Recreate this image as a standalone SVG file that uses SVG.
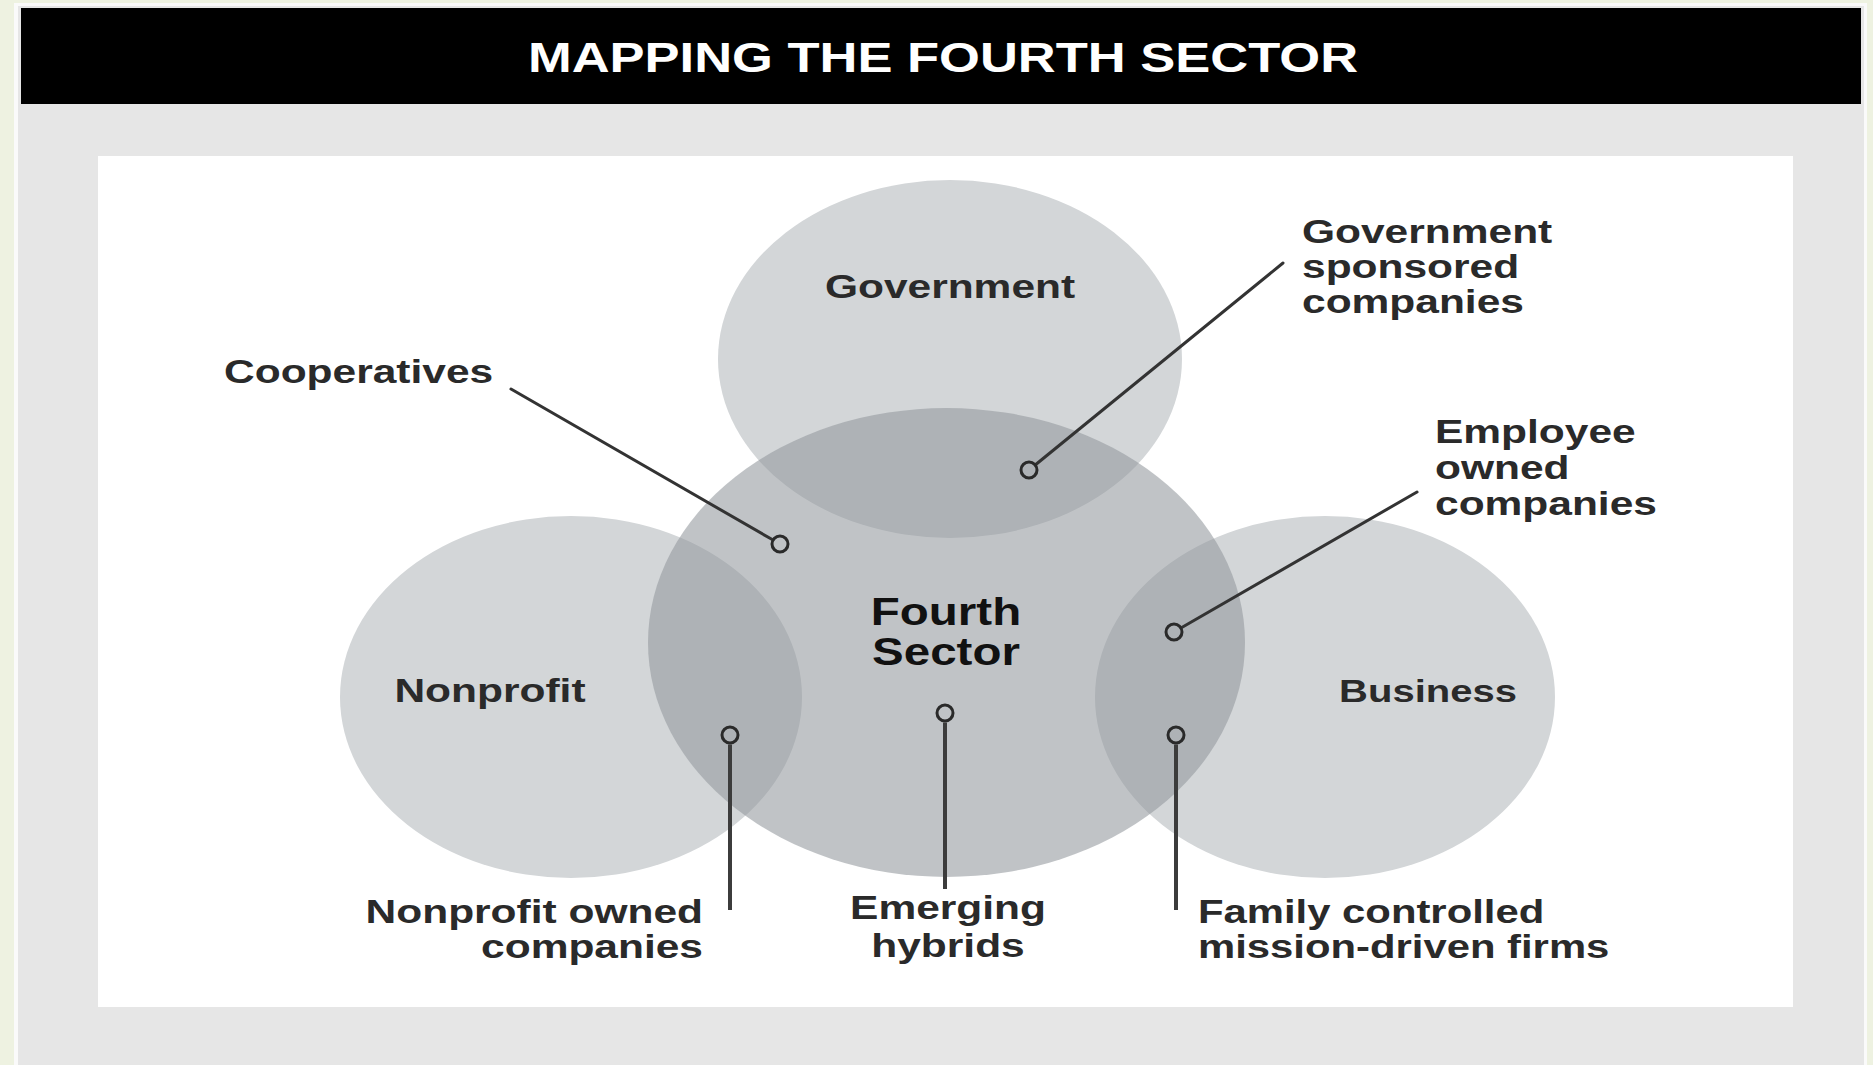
<svg xmlns="http://www.w3.org/2000/svg" width="1873" height="1065" viewBox="0 0 1873 1065">
  <style>
    .lbl { font-family: "Liberation Sans", Arial, sans-serif; font-weight: bold; font-size: 34px; fill: #2a2a2a; }
    .big { font-size: 38px; fill: #111; }
    .title { font-family: "Liberation Sans", Arial, sans-serif; font-weight: bold; font-size: 42px; fill: #ffffff; }
    .sector { fill: #d3d6d8; }
    .core { fill: #92989d; fill-opacity: 0.58; }
    .conn { stroke: #333; stroke-width: 3; fill: none; stroke-linecap: round; }
    .vconn { stroke: #3c3c3c; stroke-width: 4; fill: none; }
    .dot { fill: none; stroke: #2a2a2a; stroke-width: 3; }
  </style>

  <!-- background frame -->
  <rect x="0" y="0" width="1873" height="1065" fill="#eef2e1"/>
  <rect x="14" y="3" width="1853" height="1062" fill="#fafafa"/>
  <rect x="18" y="6" width="1846" height="1059" fill="#e6e6e6"/>
  <rect x="21" y="8" width="1840" height="96" fill="#000000"/>
  <text class="title" transform="translate(943,72) scale(1.25,1)" text-anchor="middle">MAPPING THE FOURTH SECTOR</text>
  <rect x="98" y="156" width="1695" height="851" fill="#ffffff"/>

  <!-- sector circles -->
  <g id="government">
    <ellipse class="sector" cx="950" cy="359" rx="232" ry="179"/>
    <text class="lbl" transform="translate(950,298) scale(1.25,1)" text-anchor="middle">Government</text>
  </g>
  <g id="nonprofit">
    <ellipse class="sector" cx="571" cy="697" rx="231" ry="181"/>
    <text class="lbl" transform="translate(490,702) scale(1.25,1)" text-anchor="middle">Nonprofit</text>
  </g>
  <g id="business">
    <ellipse class="sector" cx="1325" cy="697" rx="230" ry="181"/>
    <text class="lbl" style="font-size:32px" transform="translate(1428,702) scale(1.25,1)" text-anchor="middle">Business</text>
  </g>
  <g id="fourth-sector">
    <ellipse class="core" cx="946.5" cy="642.5" rx="298.5" ry="234.5"/>
    <text class="lbl big" transform="translate(946,625) scale(1.25,1)" text-anchor="middle"><tspan x="0" dy="0">Fourth</tspan><tspan x="0" dy="40">Sector</tspan></text>
  </g>

  <!-- connectors -->
  <g id="connectors">
    <line class="conn" x1="771.8" y1="539.3" x2="511" y2="389"/>
    <line class="conn" x1="1036.4" y1="464" x2="1283" y2="263"/>
    <line class="conn" x1="1182.2" y1="627.3" x2="1417" y2="492"/>
    <line class="vconn" x1="730" y1="744.5" x2="730" y2="910"/>
    <line class="vconn" x1="945" y1="722.5" x2="945" y2="889"/>
    <line class="vconn" x1="1176" y1="744.5" x2="1176" y2="910"/>
    <circle class="dot" cx="780" cy="544" r="8"/>
    <circle class="dot" cx="1029" cy="470" r="8"/>
    <circle class="dot" cx="1174" cy="632" r="8"/>
    <circle class="dot" cx="730" cy="735" r="8"/>
    <circle class="dot" cx="945" cy="713" r="8"/>
    <circle class="dot" cx="1176" cy="735" r="8"/>
  </g>

  <!-- callout labels -->
  <g id="cooperatives">
    <text class="lbl" transform="translate(224,383) scale(1.25,1)">Cooperatives</text>
  </g>
  <g id="government-sponsored">
    <text class="lbl" transform="translate(1302,243) scale(1.25,1)"><tspan x="0" dy="0">Government</tspan><tspan x="0" dy="35">sponsored</tspan><tspan x="0" dy="35">companies</tspan></text>
  </g>
  <g id="employee-owned">
    <text class="lbl" transform="translate(1435,443) scale(1.25,1)"><tspan x="0" dy="0">Employee</tspan><tspan x="0" dy="36">owned</tspan><tspan x="0" dy="36">companies</tspan></text>
  </g>
  <g id="nonprofit-owned">
    <text class="lbl" transform="translate(703,923) scale(1.25,1)" text-anchor="end"><tspan x="0" dy="0">Nonprofit owned</tspan><tspan x="0" dy="35">companies</tspan></text>
  </g>
  <g id="emerging-hybrids">
    <text class="lbl" transform="translate(948,919) scale(1.25,1)" text-anchor="middle"><tspan x="0" dy="0">Emerging</tspan><tspan x="0" dy="38">hybrids</tspan></text>
  </g>
  <g id="family-controlled">
    <text class="lbl" transform="translate(1198,923) scale(1.23,1)"><tspan x="0" dy="0">Family controlled</tspan><tspan x="0" dy="35">mission-driven firms</tspan></text>
  </g>
</svg>
